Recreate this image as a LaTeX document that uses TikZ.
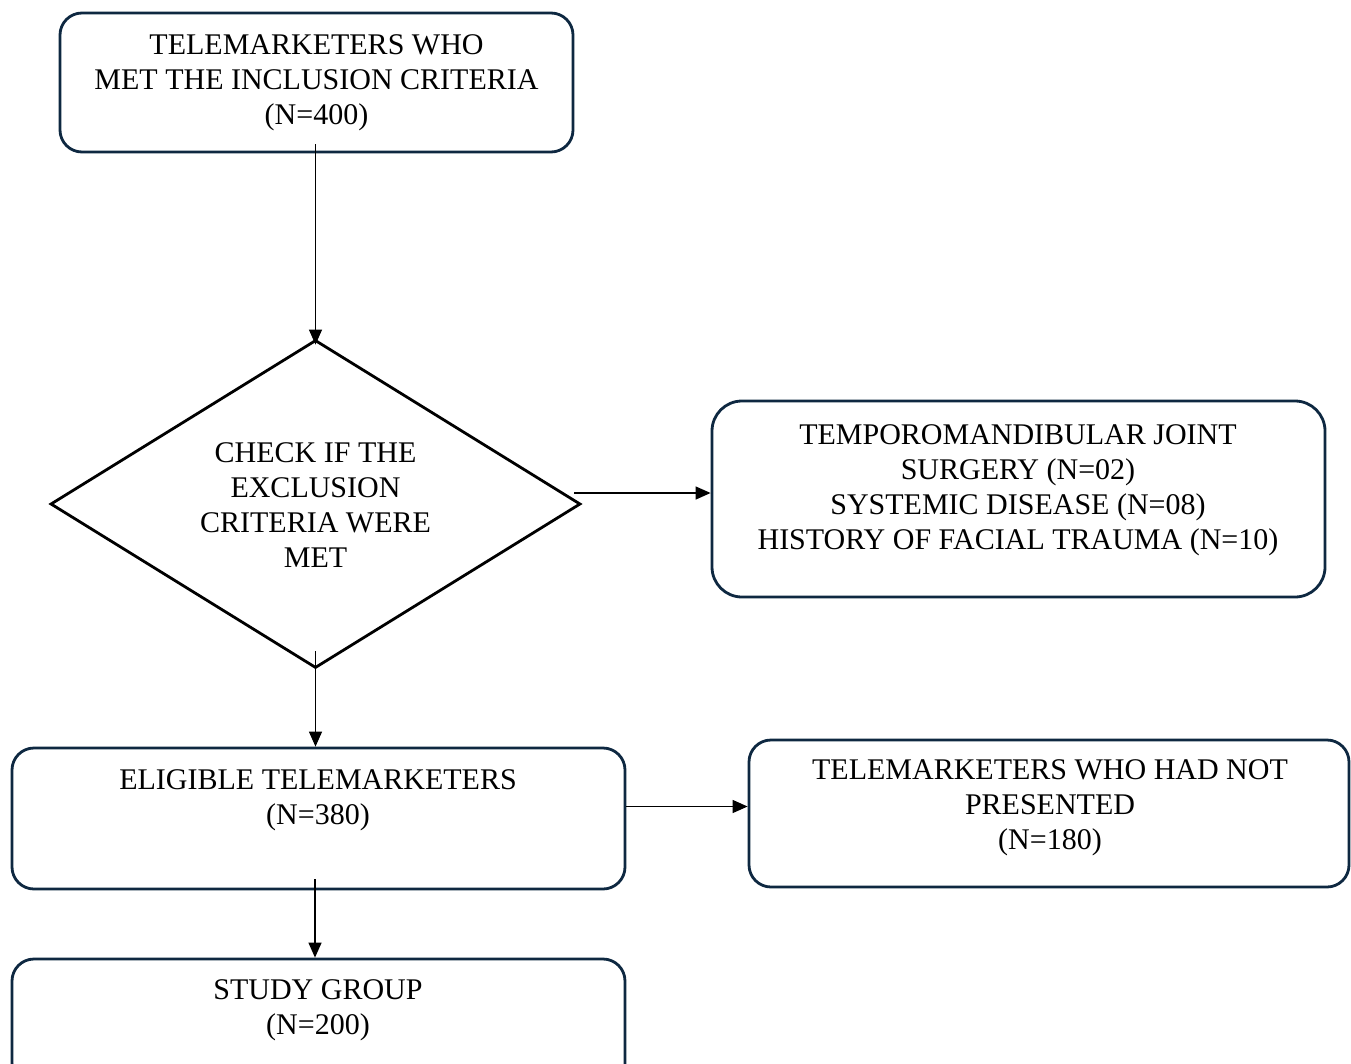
\documentclass[tikz,border=0pt]{standalone}
\usepackage{fontspec}
\setmainfont{Liberation Serif}
\usetikzlibrary{arrows.meta,shapes.geometric}
\definecolor{boxline}{HTML}{0E2841}
\tikzset{
  box/.style={draw=boxline,line width=2.8pt,rounded corners=22pt,inner sep=0pt,fill=none},
  dia/.style={draw=black,line width=2.8pt,diamond,inner sep=0pt},
  txt/.style={align=center,font=\fontsize{30}{35}\selectfont,inner sep=0pt},
  conn/.style={draw=black,line width=1.3pt,-{Triangle[length=15pt,width=13pt]}}
}
\begin{document}
\begin{tikzpicture}[x=1pt,y=-1pt]
\useasboundingbox (0,0) rectangle (1351,1063);
\clip (0,0) rectangle (1351,1063);
\fill[white] (0,0) rectangle (1351,1063);
% shapes
\node[box,minimum width=513pt,minimum height=139pt] (top) at (316.5,82.5) {};
\node[dia,minimum width=530pt,minimum height=328pt] (chk) at (315.5,504) {};
\node[box,rounded corners=30pt,minimum width=613pt,minimum height=196pt] (excl) at (1018.5,499) {};
\node[box,minimum width=613pt,minimum height=141pt] (elig) at (318.5,818.5) {};
\node[box,minimum width=600pt,minimum height=147pt] (notp) at (1049,813.5) {};
\node[box,minimum width=613pt,minimum height=126pt] (study) at (318.5,1022) {};
% texts
\node[txt] (ttop) at (316.5,83) {TELEMARKETERS WHO\\MET THE INCLUSION CRITERIA\\(N=400)};
\node[txt] (tchk) at (315.5,505) {CHECK IF THE\\EXCLUSION\\CRITERIA WERE\\MET};
\node[txt] (texcl) at (1018,490) {TEMPOROMANDIBULAR JOINT\\SURGERY (N=02)\\SYSTEMIC DISEASE (N=08)\\HISTORY OF FACIAL TRAUMA (N=10)};
\node[txt] (telig) at (318,800) {ELIGIBLE TELEMARKETERS\\(N=380)};
\node[txt] (tnotp) at (1050,808) {TELEMARKETERS WHO HAD NOT\\PRESENTED\\(N=180)};
\node[txt] (tstudy) at (318,1010.5) {STUDY GROUP\\(N=200)};
% connectors
\draw[conn,shorten <=-9pt,shorten >=-6pt] (chk.north |- top.south) -- (chk.north);
\draw[conn] ([xshift=-7.5pt,yshift=11pt]chk.east) -- ([yshift=6pt]excl.west);
\draw[conn,shorten <=-18pt] (chk.south) -- (chk.south |- elig.north);
\draw[conn] ([yshift=12pt]elig.east) -- ([yshift=7pt]notp.west);
\draw[conn,shorten <=-11pt] ([xshift=-3.5pt]elig.south) -- ([xshift=-3.5pt]study.north);
\end{tikzpicture}
\end{document}
